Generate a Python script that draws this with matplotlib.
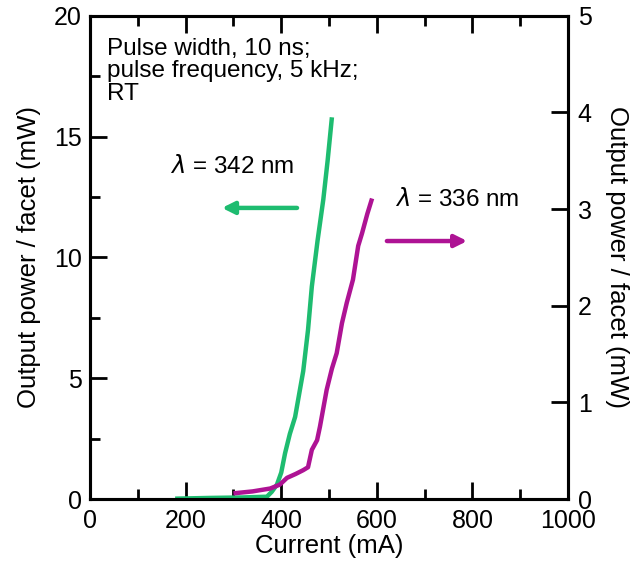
import matplotlib
matplotlib.use("Agg")
import matplotlib.pyplot as plt
import matplotlib.ticker as ticker

plt.rcParams['font.family'] = ['Liberation Sans', 'DejaVu Sans']
plt.rcParams['mathtext.fontset'] = 'dejavusans'

# lambda = 342 nm, output power on the left axis (mW)
current_342 = [178, 250, 320, 370, 380, 391, 400, 408, 418, 429, 446, 456, 464, 476, 488, 497, 506]
power_342 = [0.02, 0.05, 0.07, 0.10, 0.30, 0.60, 1.1, 1.9, 2.7, 3.4, 5.3, 7.0, 8.8, 10.7, 12.4, 14.0, 15.8]

# lambda = 336 nm, output power on the right axis (mW)
current_336 = [300, 340, 377, 397, 412, 430, 446, 456, 464, 475, 481, 495, 506, 516, 527, 537, 550, 561, 569, 580, 590]
power_336 = [0.06, 0.08, 0.11, 0.15, 0.22, 0.26, 0.30, 0.33, 0.51, 0.61, 0.75, 1.13, 1.35, 1.51, 1.82, 2.03, 2.27,
             2.62, 2.75, 2.95, 3.11]

green = "#1EBC70"
magenta = "#AE1394"

fig = plt.figure(figsize=(6.34, 5.64), dpi=100)
ax = fig.add_axes([0.142, 0.115, 0.754, 0.857])
ax2 = ax.twinx()

ax.plot(current_342, power_342, color=green, lw=3.2, solid_capstyle='butt', solid_joinstyle='round', zorder=3)
ax2.plot(current_336, power_336, color=magenta, lw=3.2, solid_capstyle='butt', solid_joinstyle='round', zorder=3)

ax.set_xlim(0, 1000)
ax.set_ylim(0, 20)
ax2.set_ylim(0, 5)

ax.xaxis.set_major_locator(ticker.MultipleLocator(200))
ax.xaxis.set_minor_locator(ticker.MultipleLocator(100))
ax.yaxis.set_major_locator(ticker.MultipleLocator(5))
ax.yaxis.set_minor_locator(ticker.MultipleLocator(2.5))
ax2.yaxis.set_major_locator(ticker.MultipleLocator(1))
ax2.yaxis.set_minor_locator(ticker.NullLocator())

ax.tick_params(axis='x', which='both', direction='in', top=True, bottom=True, width=2, labelsize=18, pad=7)
ax.tick_params(axis='x', which='major', length=12)
ax.tick_params(axis='x', which='minor', length=7)
ax.tick_params(axis='y', which='both', direction='in', left=True, right=False, width=2, labelsize=18, pad=6)
ax.tick_params(axis='y', which='major', length=12)
ax.tick_params(axis='y', which='minor', length=7)
ax2.tick_params(axis='y', which='major', direction='in', length=12, width=2, labelsize=18, pad=7)

for a in (ax, ax2):
    for sp in a.spines.values():
        sp.set_linewidth(2.2)

ax.set_xlabel("Current (mA)", fontsize=18.5, labelpad=1)
ax.set_ylabel("Output power / facet (mW)", fontsize=18.5, labelpad=9)
ax2.set_ylabel("Output power / facet (mW)", fontsize=18.5, rotation=270, labelpad=27)

ax.text(0.035, 0.955, "Pulse width, 10 ns;\npulse frequency, 5 kHz;\nRT", transform=ax.transAxes,
        fontsize=17.5, va='top', ha='left', linespacing=1.05)

ax.text(167, 13.75, r"$\lambda$ = 342 nm", fontsize=17.5, va='center', ha='left')
ax.text(638, 12.4, r"$\lambda$ = 336 nm", fontsize=17.5, va='center', ha='left')

ax.annotate("", xy=(276, 12.05), xytext=(433, 12.05),
            arrowprops=dict(arrowstyle='-|>', color=green, lw=3.2, mutation_scale=18, shrinkA=0, shrinkB=0))
ax2.annotate("", xy=(789, 2.67), xytext=(621, 2.67),
             arrowprops=dict(arrowstyle='-|>', color=magenta, lw=3.2, mutation_scale=18, shrinkA=0, shrinkB=0))

fig.savefig("out.png", dpi=100)
